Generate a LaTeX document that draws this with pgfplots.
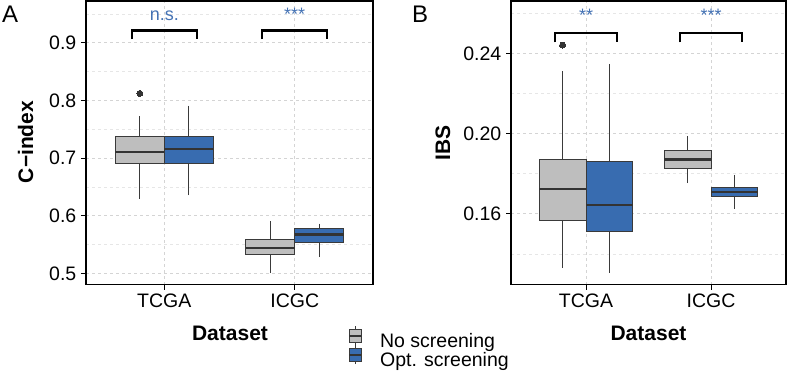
\documentclass[border=0pt]{standalone}
\usepackage{fontspec}
\setmainfont{Liberation Sans}
\usepackage{pgfplots}
\pgfplotsset{compat=1.18}
\usepgfplotslibrary{statistics}
\definecolor{boxgray}{HTML}{BEBEBE}
\definecolor{boxblue}{HTML}{386CB0}
\definecolor{edge}{HTML}{3A3A3A}
\definecolor{meddark}{HTML}{333333}
\definecolor{sigblue}{HTML}{4472B4}
\definecolor{gridmaj}{HTML}{D4D4D4}
\definecolor{gridmin}{HTML}{E6E6E6}
\pgfplotsset{
  panel/.style={
    scale only axis, anchor=south west, height=283.5pt,
    xmin=0.4, xmax=2.6, xtick={1,2}, xticklabels={TCGA,ICGC},
    tick align=outside, major tick length=5pt, minor tick length=0pt,
    tick pos=left,
    axis line style={line width=1.6pt, black},
    major tick style={line width=1pt, black},
    grid=both,
    major grid style={dashed, gridmaj, line width=0.7pt},
    minor grid style={dashed, gridmin, line width=0.6pt},
    /pgf/number format/assume math mode=true,
    ticklabel style={font=\fontsize{19.5}{20}\selectfont, text=black, inner sep=1.5pt},
    xticklabel style={yshift=-3pt},
    yticklabel style={xshift=-3pt},
  },
  gbox/.style={fill=boxgray, draw=edge, line width=0.9pt, mark=*, mark size=3pt,
    mark options={fill=meddark, draw=meddark, line width=0pt}},
  bbox/.style={fill=boxblue, draw=edge, line width=0.9pt, mark=*, mark size=3pt,
    mark options={fill=meddark, draw=meddark, line width=0pt}},
  /pgfplots/boxplot/boxcommon/.style={/pgfplots/boxplot/draw direction=y,
    /pgfplots/boxplot/box extend=0.375, /pgfplots/boxplot/whisker extend=0,
    /pgfplots/boxplot/every median/.style={line width=2.4pt, draw=meddark},
    /pgfplots/boxplot/every whisker/.style={line width=0.9pt, draw=edge}},
  bracket/.style={line width=2.3pt, black},
}
\begin{document}
\begin{tikzpicture}
\useasboundingbox (0pt,0pt) rectangle (787pt,376pt);
% ---------- Panel A ----------
\begin{axis}[panel, at={(86pt,91.5pt)}, width=287pt,
  ymin=0.4806, ymax=0.9723,
  ytick={0.5,0.6,0.7,0.8,0.9}, minor ytick={0.55,0.65,0.75,0.85,0.95},
  yticklabel style={/pgf/number format/fixed, /pgf/number format/precision=1},
  legend style={at={(axis description cs:0.913,-0.1574)}, anchor=north west,
    draw=none, fill=none, inner sep=0pt, row sep=-4pt,
    nodes={inner sep=0pt, text height=14pt, text depth=4pt, font=\fontsize{19.5}{20}\selectfont}},
  legend cell align=left,
  legend entries={No screening, Opt. screening},
]
\addlegendimage{legend image code/.code={
  \draw[overlay, edge, line width=0.8pt] (6pt,-3pt)--(6pt,16.5pt);
  \filldraw[fill=boxgray, draw=edge, line width=0.8pt] (0pt,0pt) rectangle (12pt,13pt);
  \draw[meddark, line width=1.8pt] (0pt,6.5pt)--(12pt,6.5pt);
  \path[draw=none] (0pt,6.5pt)--(31pt,6.5pt);}}
\addlegendimage{legend image code/.code={
  \draw[overlay, edge, line width=0.8pt] (6pt,-3pt)--(6pt,16.5pt);
  \filldraw[fill=boxblue, draw=edge, line width=0.8pt] (0pt,0pt) rectangle (12pt,13pt);
  \draw[meddark, line width=1.8pt] (0pt,6.5pt)--(12pt,6.5pt);
  \path[draw=none] (0pt,6.5pt)--(31pt,6.5pt);}}
% TCGA
\addplot[gbox, boxplot prepared={draw position=0.8125, lower whisker=0.629, lower quartile=0.690,
  median=0.710, upper quartile=0.737, upper whisker=0.773, boxcommon}] coordinates {(0,0.812)};
\addplot[bbox, boxplot prepared={draw position=1.1875, lower whisker=0.635, lower quartile=0.690,
  median=0.716, upper quartile=0.737, upper whisker=0.791, boxcommon}] coordinates {};
% ICGC
\addplot[gbox, boxplot prepared={draw position=1.8125, lower whisker=0.501, lower quartile=0.532,
  median=0.544, upper quartile=0.559, upper whisker=0.590, boxcommon}] coordinates {};
\addplot[bbox, boxplot prepared={draw position=2.1875, lower whisker=0.528, lower quartile=0.554,
  median=0.567, upper quartile=0.577, upper whisker=0.586, boxcommon}] coordinates {};
% significance brackets
\addplot[bracket] coordinates {(0.75,0.906) (0.75,0.921) (1.25,0.921) (1.25,0.906)};
\addplot[bracket] coordinates {(1.75,0.906) (1.75,0.921) (2.25,0.921) (2.25,0.906)};
\node[anchor=base, text=sigblue, font=\fontsize{18}{18}\selectfont, inner sep=0pt] at (axis cs:1,0.9385) {n.s.};
\node[anchor=base, text=sigblue, font=\fontsize{18}{18}\selectfont, inner sep=0pt] at (axis cs:2,0.9385) {***};
\end{axis}
% ---------- Panel B ----------
\begin{axis}[panel, at={(511pt,91.5pt)}, width=275pt,
  ymin=0.1247, ymax=0.2661,
  ytick={0.16,0.20,0.24}, minor ytick={0.14,0.18,0.22,0.26},
  yticklabel style={/pgf/number format/fixed, /pgf/number format/fixed zerofill, /pgf/number format/precision=2},
]
\addplot[gbox, boxplot prepared={draw position=0.8125, lower whisker=0.1329, lower quartile=0.1564,
  median=0.1723, upper quartile=0.1873, upper whisker=0.2313, boxcommon}] coordinates {(0,0.2441)};
\addplot[bbox, boxplot prepared={draw position=1.1875, lower whisker=0.1306, lower quartile=0.1512,
  median=0.1645, upper quartile=0.1861, upper whisker=0.2347, boxcommon}] coordinates {};
\addplot[gbox, boxplot prepared={draw position=1.8125, lower whisker=0.1752, lower quartile=0.1826,
  median=0.1871, upper quartile=0.1914, upper whisker=0.1988, boxcommon}] coordinates {};
\addplot[bbox, boxplot prepared={draw position=2.1875, lower whisker=0.1625, lower quartile=0.1685,
  median=0.1707, upper quartile=0.1732, upper whisker=0.1795, boxcommon}] coordinates {};
\addplot[bracket] coordinates {(0.75,0.2455) (0.75,0.2503) (1.25,0.2503) (1.25,0.2455)};
\addplot[bracket] coordinates {(1.75,0.2455) (1.75,0.2503) (2.25,0.2503) (2.25,0.2455)};
\node[anchor=base, text=sigblue, font=\fontsize{18}{18}\selectfont, inner sep=0pt] at (axis cs:1,0.2561) {**};
\node[anchor=base, text=sigblue, font=\fontsize{18}{18}\selectfont, inner sep=0pt] at (axis cs:2,0.2561) {***};
\end{axis}
% ---------- titles ----------
\node[rotate=90, anchor=base, inner sep=0pt, font=\fontsize{21}{21}\selectfont\bfseries] at (33pt,234pt) {C−index};
\node[rotate=90, anchor=base, inner sep=0pt, font=\fontsize{21}{21}\selectfont\bfseries] at (450pt,233.5pt) {IBS};
\node[anchor=base, inner sep=0pt, font=\fontsize{21}{21}\selectfont\bfseries] at (230pt,36pt) {Dataset};
\node[anchor=base, inner sep=0pt, font=\fontsize{21}{21}\selectfont\bfseries] at (648.5pt,36pt) {Dataset};
\node[anchor=base west, inner sep=0pt, font=\fontsize{24}{24}\selectfont] at (2pt,354pt) {A};
\node[anchor=base west, inner sep=0pt, font=\fontsize{24}{24}\selectfont] at (412pt,354pt) {B};
\end{tikzpicture}
\end{document}
